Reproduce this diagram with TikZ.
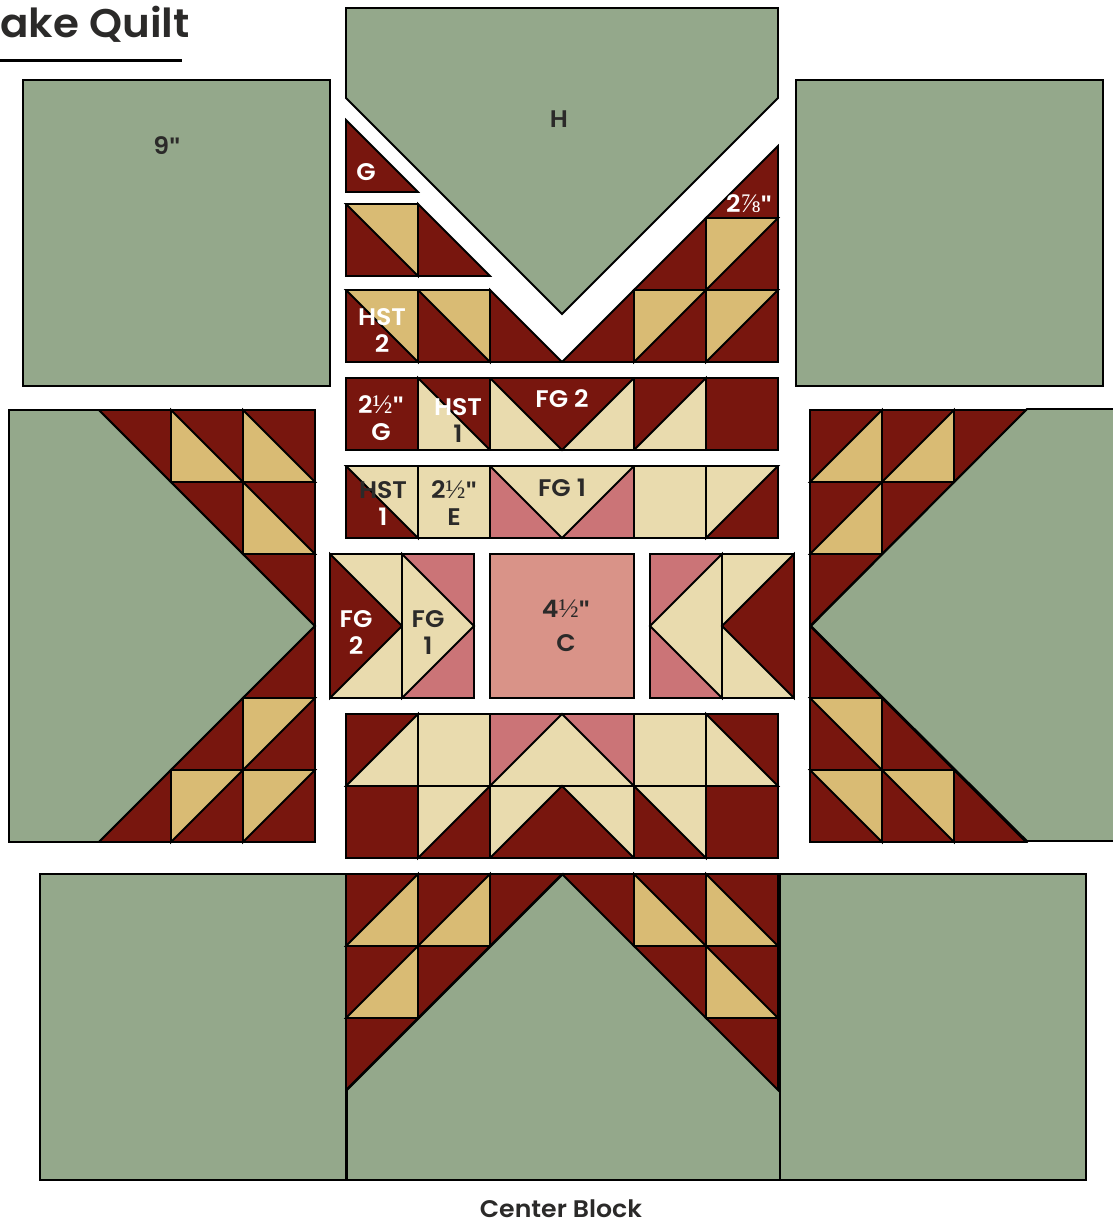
\documentclass[tikz,border=0pt]{standalone}
\usepackage{fontspec}
\setmainfont{Poppins}[FakeStretch=1.05, BoldFont={Poppins SemiBold}]
\newfontfamily\fracfont{Liberation Serif}[Scale=1.12]
\newfontfamily\quotefont{Liberation Sans}
\newcommand{\inch}{{\quotefont"}}
\usepackage{xcolor}
\usepackage{tikz}

\definecolor{sagegreen}{HTML}{94A88B}
\definecolor{maroonred}{HTML}{78160E}
\definecolor{goldtan}{HTML}{D9BB74}
\definecolor{creamy}{HTML}{E9DBAE}
\definecolor{rosy}{HTML}{CB7477}
\definecolor{blush}{HTML}{D99388}
\definecolor{inkdark}{HTML}{2B2A29}

\begin{document}
\begin{tikzpicture}[
  x=1pt,
  y=-1pt,
  patch/.style={draw=black, line width=1.8pt, line join=miter},
  sage/.style={patch, fill=sagegreen},
  maroon/.style={patch, fill=maroonred},
  gold/.style={patch, fill=goldtan},
  cream/.style={patch, fill=creamy},
  rose/.style={patch, fill=rosy},
  label/.style={font=\bfseries\fontsize{24}{27}\selectfont, align=center, inner sep=0pt, text=inkdark},
  whitelabel/.style={label, text=white}
]
  \useasboundingbox (0,0) rectangle (1113,1224);
  \clip (0,0) rectangle (1113,1224);

  % title
  \node[label, font=\bfseries\fontsize{40}{42}\selectfont, anchor=base east] (title) at (190,37) {ake Quilt};
  \coordinate (ruleleft) at (0,60);
  \coordinate (ruleright) at (182,60);
  \draw[line width=3pt] (ruleleft) -- (ruleright);

  % plain squares
  \draw[sage] (23,80) rectangle (330,386);
  \draw[sage] (796,80) rectangle (1103,386);
  \draw[sage] (40,874) rectangle (346,1180);
  \draw[sage] (780,874) rectangle (1086,1180);

  % big setting pieces
  \draw[sage] (346,8) -- (778,8) -- (778,98) -- (562,314) -- (346,98) -- cycle;
  \draw[sage] (9,410) -- (99,410) -- (315,626) -- (99,842) -- (9,842) -- cycle;
  \draw[sage] (1125,409) -- (1027,409) -- (811,626) -- (1027,841) -- (1125,841);
  \draw[sage] (347,1090) -- (563,874) -- (780,1090) -- (780,1180) -- (347,1180) -- cycle;

  % maroon triangles
  \foreach \ax/\ay/\bx/\by/\cx/\cy in {
    346/120/346/192/418/192, 418/204/418/276/490/276, 490/290/490/362/562/362,
    562/362/634/362/634/290, 634/290/706/290/706/218, 706/218/778/218/778/146,
    99/410/171/410/171/482, 171/482/243/482/243/554, 243/554/315/554/315/626,
    315/626/315/698/243/698, 243/698/243/770/171/770, 171/770/171/842/99/842,
    954/410/1026/410/954/482, 882/482/954/482/882/554, 810/554/882/554/810/626,
    810/626/882/698/810/698, 882/698/954/770/882/770, 954/770/1026/842/954/842,
    490/874/562/874/490/946, 562/874/634/874/634/946, 418/946/490/946/418/1018,
    634/946/706/946/706/1018, 346/1018/418/1018/346/1090, 706/1018/778/1018/778/1090}
    \draw[maroon] (\ax,\ay) -- (\bx,\by) -- (\cx,\cy) -- cycle;

  % half squares with gold
  \foreach \x/\y in {634/290, 706/290, 706/218, 243/698, 171/770, 243/770} {
    \draw[maroon] (\x,\y) rectangle ++(72,72);
    \draw[gold] (\x,\y) -- ++(72,0) -- ++(-72,72) -- cycle;
  }
  \foreach \x/\y in {810/410, 882/410, 810/482, 346/874, 418/874, 346/946} {
    \draw[maroon] (\x,\y) rectangle ++(72,72);
    \draw[gold] (\x,\y) ++(72,0) -- ++(0,72) -- ++(-72,0) -- cycle;
  }
  \foreach \x/\y in {346/204, 346/290, 418/290, 810/698, 810/770, 882/770} {
    \draw[maroon] (\x,\y) rectangle ++(72,72);
    \draw[gold] (\x,\y) -- ++(72,0) -- ++(0,72) -- cycle;
  }
  \foreach \x/\y in {171/410, 243/410, 243/482, 634/874, 706/874, 706/946} {
    \draw[maroon] (\x,\y) rectangle ++(72,72);
    \draw[gold] (\x,\y) -- ++(72,72) -- ++(-72,0) -- cycle;
  }

  % plain maroon and cream squares
  \foreach \x/\y in {346/378, 706/378, 346/786, 706/786}
    \draw[maroon] (\x,\y) rectangle ++(72,72);
  \foreach \x/\y in {418/466, 634/466, 418/714, 634/714}
    \draw[cream] (\x,\y) rectangle ++(72,72);

  % half squares with cream
  \draw[maroon] (418,378) rectangle ++(72,72);
  \draw[cream] (418,378) -- (490,450) -- (418,450) -- cycle;
  \draw[maroon] (634,378) rectangle ++(72,72);
  \draw[cream] (706,378) -- (706,450) -- (634,450) -- cycle;
  \draw[maroon] (346,466) rectangle ++(72,72);
  \draw[cream] (346,466) -- (418,466) -- (418,538) -- cycle;
  \draw[maroon] (706,466) rectangle ++(72,72);
  \draw[cream] (706,466) -- (778,466) -- (706,538) -- cycle;
  \draw[maroon] (346,714) rectangle ++(72,72);
  \draw[cream] (418,714) -- (418,786) -- (346,786) -- cycle;
  \draw[maroon] (706,714) rectangle ++(72,72);
  \draw[cream] (706,714) -- (778,786) -- (706,786) -- cycle;
  \draw[maroon] (418,786) rectangle ++(72,72);
  \draw[cream] (418,786) -- (490,786) -- (418,858) -- cycle;
  \draw[maroon] (634,786) rectangle ++(72,72);
  \draw[cream] (634,786) -- (706,786) -- (706,858) -- cycle;

  % flying geese, horizontal
  \draw[cream] (490,378) rectangle ++(144,72);
  \draw[maroon] (490,378) -- (634,378) -- (562,450) -- cycle;
  \draw[rose] (490,466) rectangle ++(144,72);
  \draw[cream] (490,466) -- (634,466) -- (562,538) -- cycle;
  \draw[rose] (490,714) rectangle ++(144,72);
  \draw[cream] (490,786) -- (562,714) -- (634,786) -- cycle;
  \draw[cream] (490,786) rectangle ++(144,72);
  \draw[maroon] (490,858) -- (562,786) -- (634,858) -- cycle;

  % flying geese, upright
  \draw[cream] (330,554) rectangle (402,698);
  \draw[maroon] (330,554) -- (402,626) -- (330,698) -- cycle;
  \draw[rose] (402,554) rectangle (474,698);
  \draw[cream] (402,554) -- (474,626) -- (402,698) -- cycle;
  \draw[rose] (650,554) rectangle (722,698);
  \draw[cream] (722,554) -- (650,626) -- (722,698) -- cycle;
  \draw[cream] (722,554) rectangle (794,698);
  \draw[maroon] (794,554) -- (722,626) -- (794,698) -- cycle;

  % center square
  \draw[patch, fill=blush] (490,554) rectangle (634,698);

  % labels
  \node[label] (labelnine) at (167,146) {9\inch};
  \node[label] (labelh) at (559,119) {H};
  \node[whitelabel] (labelg) at (366,172) {G};
  \node[whitelabel] (labelhalf) at (749,204) {2{\fracfont\mdseries ⅞}\inch};
  \node[whitelabel] (hsttwo) at (382,330) {HST\\2};
  \node[whitelabel] (labelgsq) at (381,418) {2{\fracfont\mdseries ½}\inch\\G};
  \node[whitelabel] (hstone) at (458,420) {HST\\\textcolor{inkdark}{1}};
  \node[whitelabel] (fgtwo) at (562,399) {FG 2};
  \node[label] (hstonelow) at (383,503) {HST\\\textcolor{white}{1}};
  \node[label] (labele) at (454,503) {2{\fracfont\mdseries ½}\inch\\E};
  \node[label] (fgone) at (562,488) {FG 1};
  \node[whitelabel] (fgtwoleft) at (356,633) {FG\\2};
  \node[label] (fgoneleft) at (428,633) {FG\\1};
  \node[label, font=\bfseries\fontsize{24}{34}\selectfont] (labelc) at (566,626) {4{\fracfont\mdseries ½}\inch\\C};
  \node[label] (caption) at (561,1209) {Center Block};
\end{tikzpicture}
\end{document}
